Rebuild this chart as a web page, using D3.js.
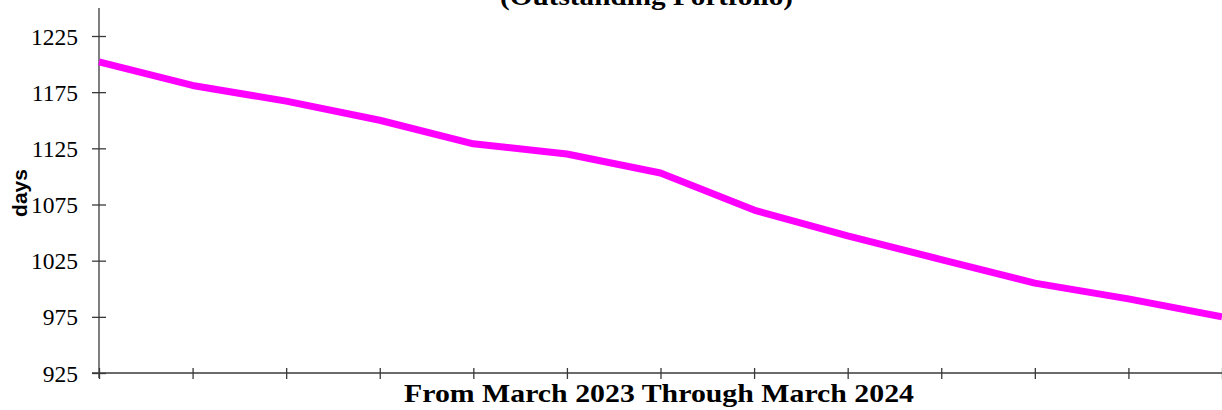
<!DOCTYPE html>
<html>
<head>
<meta charset="utf-8">
<script src="https://cdn.jsdelivr.net/npm/d3@7"></script>
<style>
  html, body { margin: 0; padding: 0; background: #fff; }
  svg { display: block; }
</style>
</head>
<body>
<svg id="chart" width="1222" height="410"></svg>
<script>
const months = ["Mar 2023","Apr 2023","May 2023","Jun 2023","Jul 2023","Aug 2023","Sep 2023","Oct 2023","Nov 2023","Dec 2023","Jan 2024","Feb 2024","Mar 2024"];
const days = [1202, 1181, 1167, 1150, 1129, 1120, 1103, 1070, 1047, 1026, 1005, 991, 975];
const yTicks = [925, 975, 1025, 1075, 1125, 1175, 1225];
const titleText = "(Outstanding Portfolio)";
const xLabel = "From March 2023 Through March 2024";
const yLabel = "days";

const svg = d3.select("#chart");
const mLeft = 99, mRight = 1222, mTop = 8, mBottom = 373;

const x = d3.scalePoint().domain(months).range([mLeft, mRight]);
const y = d3.scaleLinear().domain([925, 1225]).range([mBottom, 36]);

const axisColor = "#3a3a3a";
const serif = "'Liberation Serif', 'Times New Roman', serif";

// Y axis
const yAxis = d3.axisLeft(y).tickValues(yTicks).tickSize(0).tickPadding(0).tickFormat(d3.format("d"));
const gy = svg.append("g").attr("transform", `translate(${mLeft},0)`).call(yAxis);
gy.select(".domain").remove();
gy.selectAll(".tick text")
  .attr("x", -21)
  .attr("dy", "0.34em")
  .attr("font-family", serif)
  .attr("font-size", 23.5)
  .attr("fill", "#000");
gy.selectAll(".tick").append("line")
  .attr("x1", -7).attr("x2", 7).attr("y1", 0).attr("y2", 0)
  .attr("stroke", axisColor).attr("stroke-width", 1.3);
svg.append("line").attr("x1", mLeft).attr("x2", mLeft).attr("y1", mTop).attr("y2", mBottom + 5)
  .attr("stroke", axisColor).attr("stroke-width", 1.3);

// X axis
const xAxis = d3.axisBottom(x).tickSize(0).tickFormat("");
const gx = svg.append("g").attr("transform", `translate(0,${mBottom})`).call(xAxis);
gx.select(".domain").remove();
gx.selectAll(".tick").append("line")
  .attr("y1", -5).attr("y2", 6)
  .attr("stroke", axisColor).attr("stroke-width", 1.3);
svg.append("line").attr("x1", mLeft - 7).attr("x2", mRight).attr("y1", mBottom).attr("y2", mBottom)
  .attr("stroke", axisColor).attr("stroke-width", 1.3);

// Line
const line = d3.line().x((d, i) => x(months[i])).y(d => y(d));
svg.append("path").datum(days)
  .attr("d", line)
  .attr("fill", "none")
  .attr("stroke", "#ff00ff")
  .attr("stroke-width", 7)
  .attr("stroke-linejoin", "round");

// Title
svg.append("text").attr("x", 646.5).attr("y", 5)
  .attr("text-anchor", "middle")
  .attr("font-family", serif)
  .attr("font-weight", "bold").attr("font-size", 25.5)
  .attr("textLength", 293).attr("lengthAdjust", "spacingAndGlyphs")
  .text(titleText);

// X label
svg.append("text").attr("x", 659).attr("y", 402)
  .attr("text-anchor", "middle")
  .attr("font-family", serif)
  .attr("font-weight", "bold").attr("font-size", 25.5)
  .attr("textLength", 510).attr("lengthAdjust", "spacingAndGlyphs")
  .text(xLabel);

// Y label
svg.append("text")
  .attr("transform", "translate(27,193) rotate(-90)")
  .attr("text-anchor", "middle")
  .attr("font-family", "'Liberation Sans', Arial, sans-serif")
  .attr("font-weight", "bold").attr("font-size", 21)
  .text(yLabel);
</script>
</body>
</html>
